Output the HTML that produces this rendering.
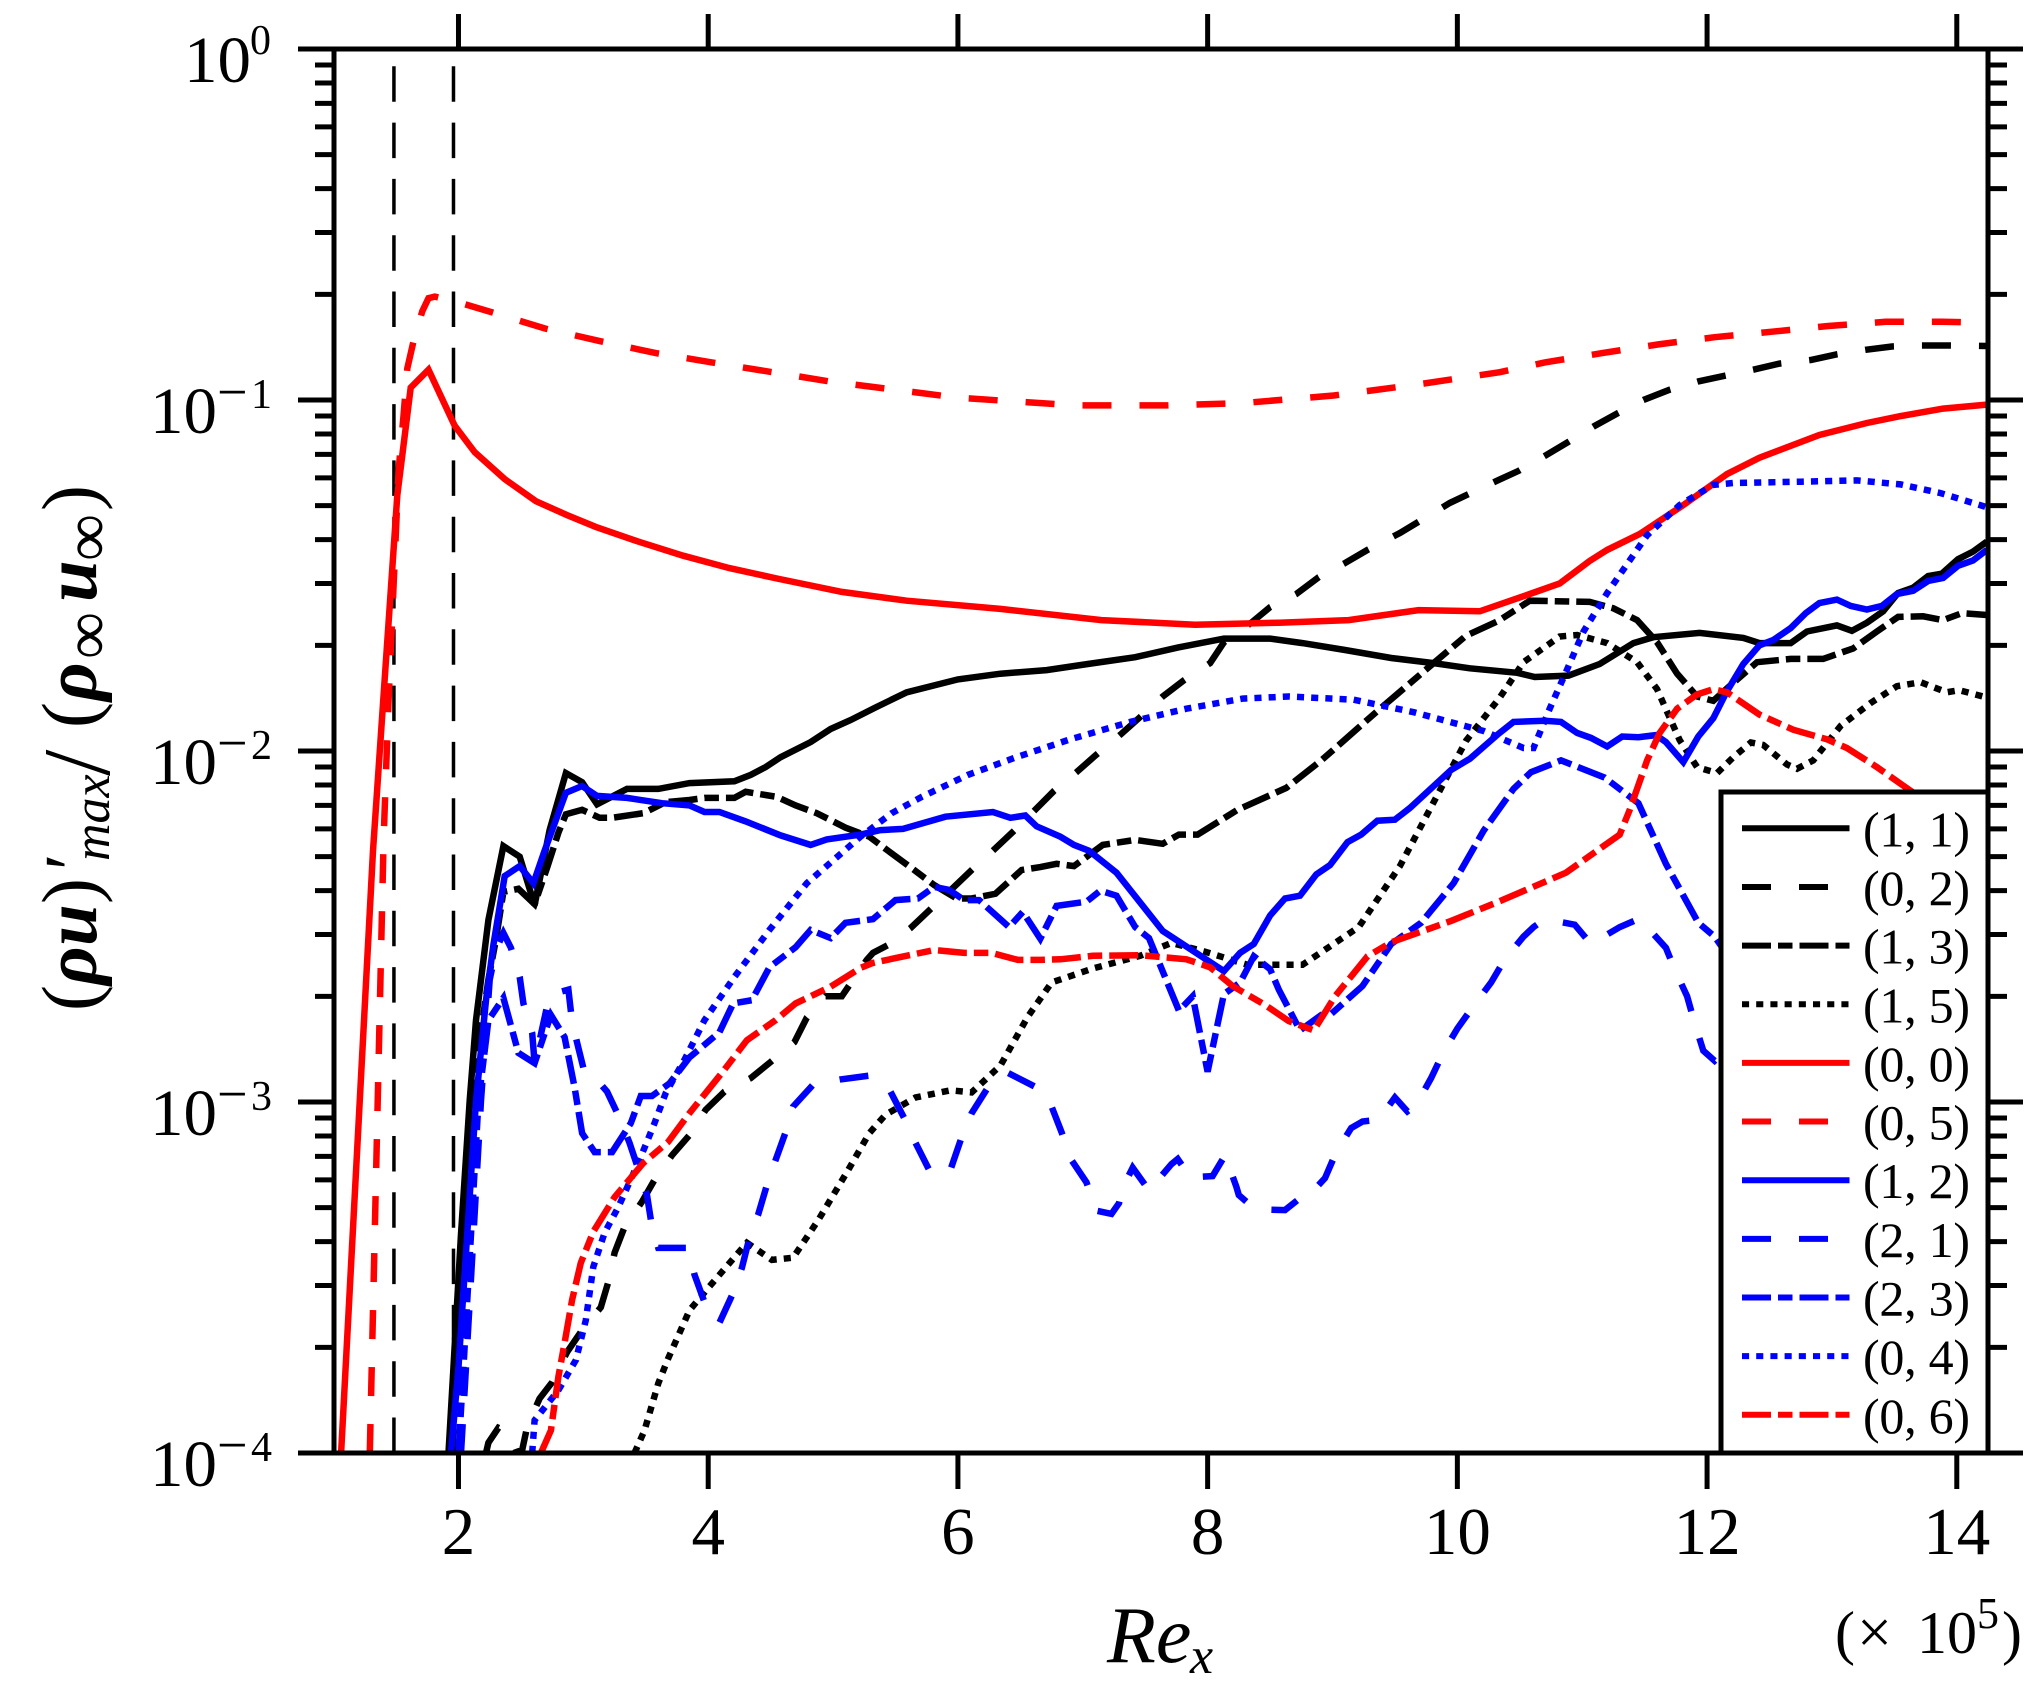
<!DOCTYPE html>
<html lang="en">
<head>
<meta charset="utf-8">
<title>Streamwise mass-flux fluctuation modes versus Re_x</title>
<style>
html,body{margin:0;padding:0;background:#fff;}
svg{display:block;}
text{font-family:"Liberation Serif","DejaVu Serif",serif;fill:#000;}
</style>
</head>
<body>
<svg id="chart" xmlns="http://www.w3.org/2000/svg" width="2031" height="1696" viewBox="0 0 2031 1696">
  <defs>
    <clipPath id="plot-clip"><rect x="334" y="49" width="1654" height="1404"/></clipPath>
  </defs>
  <rect x="0" y="0" width="2031" height="1696" fill="#fff"/>
  <g id="reference-lines"></g>
  <g id="series-layer" clip-path="url(#plot-clip)"></g>
  <g id="axis-layer"></g>
  <g id="legend-layer"></g>

  <g transform="translate(96,0) rotate(-90)">
    <text x="-1011" y="0" font-size="78">(</text>
    <text x="-985" y="0" font-size="75" font-style="italic" font-weight="bold">ρ</text>
    <text x="-946" y="0" font-size="75" font-style="italic" font-weight="bold">u</text>
    <text x="-904" y="0" font-size="78">)</text>
    <text x="-870" y="0" font-size="75">′</text>
    <text x="-861" y="13" font-size="52" font-style="italic">max</text>
    <text x="-776" y="13" font-size="95">/</text>
    <text x="-728" y="0" font-size="78">(</text>
    <text x="-701" y="0" font-size="75" font-style="italic" font-weight="bold">ρ</text>
    <text x="-659" y="13" font-size="66">∞</text>
    <text x="-602" y="0" font-size="75" font-style="italic" font-weight="bold">u</text>
    <text x="-561" y="13" font-size="66">∞</text>
    <text x="-511" y="0" font-size="78">)</text>
  </g>
  <g>
    <text x="1107" y="1662" font-size="80" font-style="italic">Re</text>
    <text x="1190" y="1673" font-size="52" font-style="italic">x</text>
  </g>
  <g>
    <text x="1835" y="1653" font-size="60">(</text>
    <text x="1857" y="1653" font-size="62">×</text>
    <text x="1917" y="1653" font-size="60">10</text>
    <text x="1977" y="1628" font-size="44">5</text>
    <text x="2002" y="1653" font-size="60">)</text>
  </g>
</svg>
<script>
// Axis domain (Re_x in units of 1e5, log-scaled amplitude)
const xDomain = [1.003, 14.25];
const yDomain = [1, 0.0001];
const xTickValues = [2, 4, 6, 8, 10, 12, 14];
const yDecadeExponents = [0, -1, -2, -3, -4];
const yMinorMultipliers = [2, 3, 4, 5, 6, 7, 8, 9];
const boundaryRe = [1.483, 1.96];

// (1, 1)
const re11 = [1.92,1.96,2.02,2.09,2.14,2.24,2.36,2.49,2.61,2.73,2.86,2.99,3.11,3.35,3.60,3.85,4.21,4.34,4.46,4.58,4.82,4.98,5.14,5.34,5.59,6.0,6.34,6.71,7.04,7.42,7.76,8.13,8.50,8.76,9.10,9.47,9.81,10.10,10.48,10.62,10.89,11.14,11.41,11.57,11.94,12.29,12.42,12.67,12.80,13.04,13.16,13.28,13.41,13.53,13.65,13.77,13.88,14.01,14.13,14.24];
const val11 = [.0001,.000176,.00042,.00101,.00171,.0033,.00536,.0050,.00364,.00595,.00865,.00815,.00705,.0078,.0078,.0081,.0082,.00855,.0090,.0096,.0106,.01155,.01225,.0133,.0147,.016,.0166,.0170,.0177,.0185,.0197,.0209,.0209,.0203,.0194,.0184,.0178,.0172,.0167,.01625,.0164,.0177,.0203,.0211,.0217,.0210,.0203,.0203,.0219,.0228,.0220,.0232,.0250,.0282,.0292,.0315,.0320,.0352,.0370,.0395];

// (0, 2)
const re02 = [2.22,2.24,2.32,2.37,2.44,2.47,2.51,2.55,2.65,2.75,2.87,2.99,3.14,3.20,3.25,3.33,3.47,3.57,3.71,3.85,3.98,4.13,4.34,4.50,4.69,4.79,4.94,5.07,5.13,5.27,5.32,5.44,5.62,5.79,5.96,6.11,6.28,6.45,6.66,6.77,6.95,7.10,7.31,7.46,7.64,7.81,8.02,8.13,8.35,8.50,8.71,8.89,9.10,9.28,9.54,9.94,10.34,10.49,10.70,10.89,11.09,11.28,11.49,11.70,11.93,12.13,12.37,12.58,12.83,13.04,13.27,13.48,13.72,13.93,14.24];
const val02 = [.0001,.000107,.000118,.000116,.000107,.0001,.000102,.000119,.000143,.000159,.000194,.000224,.00026,.000307,.000372,.00044,.00052,.0006,.000705,.000805,.00095,.00107,.00117,.0013,.00148,.00174,.0020,.0020,.00215,.00254,.00266,.0028,.00313,.00357,.00407,.00458,.0052,.00593,.00703,.0077,.0087,.0097,.0112,.0125,.0143,.0159,.0178,.0204,.0232,.0257,.0280,.0313,.0343,.0374,.0418,.0509,.0594,.0628,.0693,.076,.084,.0915,.100,.107,.113,.117,.122,.127,.130,.135,.139,.142,.143,.143,.1425];

// (1, 3)
const re13 = [1.95,2.01,2.09,2.17,2.24,2.30,2.36,2.48,2.61,2.71,2.80,2.86,2.99,3.13,3.23,3.48,3.66,3.85,3.97,4.21,4.30,4.55,4.70,4.87,5.10,5.29,5.44,5.65,5.81,5.99,6.11,6.30,6.51,6.66,6.79,6.93,7.16,7.42,7.64,7.77,7.92,8.24,8.63,8.91,9.36,9.81,10.07,10.33,10.58,11.06,11.25,11.44,11.60,11.76,11.92,12.05,12.18,12.40,12.67,12.93,13.17,13.36,13.53,13.73,13.89,14.04,14.24];
const val13 = [.0001,.000273,.000683,.0015,.00223,.0029,.00397,.00405,.00366,.00465,.00585,.0066,.0068,.00645,.00645,.00665,.00715,.00725,.00735,.00735,.00765,.0074,.0070,.00665,.00605,.0057,.0052,.00458,.00415,.0038,.0038,.00392,.00458,.00467,.00477,.0047,.0054,.00558,.00544,.00578,.00578,.0068,.00785,.0094,.0130,.0178,.0213,.0235,.0268,.0266,.0255,.0236,.0204,.0166,.0143,.0139,.0153,.0179,.0183,.0183,.0196,.0219,.0241,.0242,.0236,.0247,.0244];

// (1, 5)
const re15 = [3.41,3.49,3.60,3.68,3.85,4.02,4.31,4.51,4.68,4.88,5.11,5.29,5.42,5.66,5.94,6.11,6.34,6.56,6.75,7.08,7.46,7.71,7.98,8.32,8.76,9.21,9.54,10.07,10.34,10.53,10.82,10.96,11.20,11.44,11.60,11.78,11.92,12.08,12.21,12.35,12.45,12.64,12.72,12.85,13.07,13.31,13.52,13.71,13.92,14.02,14.24];
const val15 = [.0001,.000116,.000158,.000186,.000255,.000301,.000397,.000355,.00036,.00046,.00063,.000815,.00092,.00103,.00108,.001065,.00127,.00175,.00219,.0024,.00261,.00284,.00268,.00246,.00246,.00315,.0047,.0107,.0142,.0179,.0212,.0214,.0203,.0179,.0150,.01075,.0090,.00865,.0096,.01057,.0104,.00915,.0089,.0094,.0118,.0137,.0153,.0157,.0147,.0149,.0142];

// (0, 0)
const re00 = [1.06,1.315,1.41,1.51,1.617,1.76,1.97,2.13,2.37,2.62,2.87,3.10,3.44,3.80,4.17,4.55,5.07,5.59,6.34,7.15,7.90,8.57,9.13,9.69,10.18,10.58,10.82,11.06,11.20,11.46,11.81,12.16,12.42,12.90,13.28,13.55,13.89,14.24];
const val00 = [.0001,.0052,.0162,.0535,.1085,.122,.0845,.071,.0595,.0515,.047,.0435,.0395,.036,.0332,.031,.0284,.0268,.0254,.0236,.0229,.0232,.0236,.0252,.0250,.028,.030,.0348,.0374,.0415,.0502,.0615,.0685,.0795,.086,.090,.0945,.097];

// (0, 5)
const re05 = [1.29,1.40,1.44,1.52,1.56,1.59,1.64,1.71,1.76,1.81,2.04,2.24,2.69,3.14,3.58,4.03,4.97,6.0,6.94,7.67,8.28,9.01,9.74,10.34,10.70,11.16,11.61,12.06,12.52,12.97,13.43,13.88,14.24];
const val05 = [.0001,.0056,.014,.063,.090,.123,.147,.179,.195,.197,.188,.179,.160,.147,.136,.128,.113,.1015,.0965,.0965,.098,.103,.1115,.120,.128,.136,.144,.151,.1565,.1625,.167,.167,.166];

// (1, 2)
const re12 = [1.94,2.0,2.07,2.14,2.22,2.28,2.37,2.49,2.60,2.69,2.86,2.99,3.11,3.35,3.63,3.85,3.97,4.09,4.30,4.58,4.82,4.95,5.22,5.38,5.56,5.90,6.28,6.42,6.54,6.63,6.82,6.93,7.05,7.27,7.64,8.13,8.26,8.37,8.50,8.62,8.74,8.87,8.98,9.12,9.23,9.36,9.50,9.62,9.95,10.10,10.33,10.45,10.70,10.83,10.96,11.07,11.20,11.32,11.45,11.59,11.67,11.81,11.93,12.05,12.16,12.29,12.42,12.53,12.67,12.79,12.90,13.04,13.15,13.28,13.40,13.52,13.65,13.77,13.89,14.01,14.13,14.24];
const val12 = [.0001,.000176,.00042,.00101,.00195,.0028,.0044,.0047,.0042,.0052,.0076,.00795,.00745,.00735,.0071,.0070,.0067,.0067,.0063,.00575,.0054,.0056,.00578,.00595,.0060,.0065,.0067,.00645,.00655,.0061,.0057,.0054,.0052,.0045,.00307,.00236,.00266,.00282,.0034,.0038,.00387,.00445,.00473,.0055,.00578,.00633,.00637,.00688,.00883,.0095,.0112,.0121,.0122,.0121,.01125,.0109,.0103,.0110,.01095,.0111,.0106,.0093,.0110,.0124,.0148,.0177,.0200,.0207,.0224,.0247,.0264,.0270,.0259,.0253,.0259,.0280,.0286,.0305,.0311,.0337,.0349,.0374];

// (2, 1)
const re21 = [2.02,2.06,2.12,2.18,2.25,2.30,2.36,2.42,2.49,2.52,2.59,2.61,2.73,2.88,2.91,2.96,3.01,3.11,3.19,3.29,3.37,3.51,3.55,3.60,3.63,3.84,3.89,3.97,4.09,4.20,4.27,4.34,4.40,4.47,4.54,4.62,4.68,4.84,5.06,5.30,5.42,5.46,5.57,5.66,5.78,5.81,5.94,6.03,6.11,6.24,6.34,6.40,6.63,6.75,6.83,6.91,7.03,7.11,7.23,7.29,7.32,7.40,7.53,7.71,7.76,7.86,8.04,8.14,8.23,8.25,8.38,8.62,8.75,8.80,8.94,9.03,9.15,9.24,9.37,9.50,9.60,9.67,9.79,9.89,10.0,10.13,10.27,10.38,10.53,10.61,10.70,10.94,11.07,11.30,11.46,11.67,11.74,11.84,11.90,11.97,12.06,12.11,12.42];
const val21 = [.0001,.000176,.00042,.00101,.00223,.00271,.00303,.00275,.00227,.00191,.00157,.00129,.00202,.00209,.00169,.00143,.00121,.001155,.00107,.0009,.000765,.000543,.00044,.000384,.000384,.000384,.000322,.000269,.000235,.000286,.000337,.000424,.000477,.00058,.000683,.00082,.00097,.00112,.00116,.00119,.0011,.00107,.0009,.000765,.00063,.00062,.00064,.000795,.00093,.0011,.001155,.00121,.0011,.00097,.00082,.000683,.00059,.00049,.00048,.000515,.00057,.00065,.00056,.000665,.000688,.00061,.000615,.000705,.000573,.000543,.000495,.000492,.000536,.000536,.000607,.00072,.000843,.00088,.00089,.00103,.00094,.00098,.00117,.00139,.00162,.00188,.00219,.00255,.00296,.00315,.00332,.0032,.00282,.00315,.00333,.00275,.00239,.0020,.00168,.0014,.00131,.00136,.00195];

// (2, 3)
const re23 = [2.0,2.04,2.10,2.16,2.22,2.24,2.36,2.48,2.61,2.74,2.85,2.93,2.99,3.09,3.23,3.38,3.46,3.55,3.69,3.85,4.09,4.20,4.35,4.49,4.70,4.82,4.98,5.10,5.32,5.50,5.68,5.81,5.93,6.05,6.17,6.41,6.52,6.66,6.79,7.03,7.14,7.27,7.42,7.53,7.77,7.88,8.00,8.13,8.26,8.37,8.50,8.57,8.74,8.91,8.98,9.24,9.47,9.71,9.97,10.21,10.45,10.59,10.83,11.18,11.45,11.67,11.93,12.06,12.42];
const val23 = [.0001,.000176,.00042,.00101,.0015,.00171,.00198,.00138,.00129,.00177,.00153,.0011,.000815,.00072,.00072,.00087,.00104,.00104,.00113,.00134,.00158,.00191,.00195,.00242,.00276,.00309,.00293,.00324,.00332,.00376,.0038,.0041,.00402,.00376,.00376,.00315,.00348,.00292,.00362,.00372,.0040,.00387,.00315,.00293,.00182,.0020,.00122,.00203,.00219,.0026,.00239,.00209,.0016,.00177,.00177,.00214,.00282,.00324,.0042,.00593,.0078,.0087,.0094,.0084,.0071,.00477,.00324,.00296,.00195];

// (0, 4)
const re04 = [2.59,2.61,2.80,2.94,3.02,3.08,3.17,3.28,3.45,3.57,3.66,3.81,3.97,4.21,4.49,4.79,5.22,5.47,5.71,6.08,6.45,6.90,7.38,7.83,8.28,8.65,9.17,9.65,10.21,10.53,10.61,10.74,10.88,11.01,11.20,11.52,11.78,12.05,12.21,12.75,13.20,13.55,13.87,14.24];
const val04 = [.0001,.000124,.000151,.000184,.000239,.000339,.000424,.000502,.000683,.00087,.00106,.00132,.00171,.00227,.00309,.0042,.0057,.00665,.0074,.00855,.00955,.0108,.0121,.0132,.0141,.0143,.0140,.0129,.0114,.0102,.0102,.0132,.0171,.0219,.0282,.0412,.0502,.0573,.058,.0585,.059,.0575,.0543,.0495];

// (0, 6)
const re06 = [2.66,2.74,2.80,2.85,2.91,2.98,3.08,3.25,3.48,3.68,3.85,4.11,4.31,4.54,4.70,4.98,5.22,5.32,5.50,5.81,6.05,6.27,6.48,6.66,6.82,7.08,7.46,7.83,8.02,8.20,8.46,8.65,8.85,9.02,9.28,9.47,9.95,10.33,10.87,11.30,11.38,11.52,11.62,11.76,11.92,12.05,12.16,12.42,12.69,12.96,13.12,13.36,13.63,13.95];
const val06 = [.0001,.000116,.000165,.000206,.000273,.000348,.000427,.000536,.00067,.00077,.00093,.00121,.0015,.00171,.00191,.00213,.00241,.00249,.00257,.00271,.00266,.00266,.00254,.00254,.00255,.00261,.00262,.00255,.00242,.00214,.00189,.0017,.0016,.0020,.0026,.00285,.00328,.00372,.0045,.00578,.0068,.0094,.01125,.0132,.0145,.0150,.0147,.0127,.0115,.0108,.0102,.0090,.0077,.00637];

const seriesNames = ['(1, 1)','(0, 2)','(1, 3)','(1, 5)','(0, 0)','(0, 5)','(1, 2)','(2, 1)','(2, 3)','(0, 4)','(0, 6)'];
const seriesRe = [re11,re02,re13,re15,re00,re05,re12,re21,re23,re04,re06];
const seriesVal = [val11,val02,val13,val15,val00,val05,val12,val21,val23,val04,val06];
</script>
<script>
(function(){
  var NS = 'http://www.w3.org/2000/svg';
  var plot = {left:334, right:1988, top:49, bottom:1453};
  var longDash = '29 28', dashDot = '29 7 14.5 7', dots = '7.1 7.1';
  var styles = [
    {color:'#000000', dash:'', width:6.5},
    {color:'#000000', dash:longDash, width:6.5},
    {color:'#000000', dash:dashDot, width:6.5},
    {color:'#000000', dash:dots, width:6.5},
    {color:'#ff0000', dash:'', width:6.5},
    {color:'#ff0000', dash:longDash, width:6.5},
    {color:'#0000ff', dash:'', width:6.5},
    {color:'#0000ff', dash:longDash, width:6.5},
    {color:'#0000ff', dash:dashDot, width:6.5},
    {color:'#0000ff', dash:dots, width:6.5},
    {color:'#ff0000', dash:dashDot, width:6.5}
  ];

  function xScale(re){
    return plot.left + (re - xDomain[0]) / (xDomain[1] - xDomain[0]) * (plot.right - plot.left);
  }
  function yScale(v){
    var a = Math.log10(yDomain[0]), b = Math.log10(yDomain[1]);
    return plot.top + (Math.log10(v) - a) / (b - a) * (plot.bottom - plot.top);
  }
  function make(tag, attrs, parent){
    var el = document.createElementNS(NS, tag);
    for (var k in attrs) el.setAttribute(k, attrs[k]);
    parent.appendChild(el);
    return el;
  }
  function slug(label){
    return label.replace(/[^0-9]+/g, '-').replace(/^-|-$/g, '');
  }

  var refLayer = document.getElementById('reference-lines');
  boundaryRe.forEach(function(re){
    var l = make('line', {x1:xScale(re), x2:xScale(re), y1:plot.bottom, y2:plot.top, stroke:'#000', 'stroke-width':3.5, 'stroke-dasharray':'35.5 20.8'}, refLayer);
    
    
  });

  var seriesLayer = document.getElementById('series-layer');
  seriesNames.forEach(function(name, i){
    var re = seriesRe[i], val = seriesVal[i], n = Math.min(re.length, val.length), pts = [];
    for (var j = 0; j < n; j++) pts.push(xScale(re[j]).toFixed(1) + ',' + yScale(val[j]).toFixed(1));
    var attrs = {points:pts.join(' '), fill:'none', stroke:styles[i].color, 'stroke-width':styles[i].width, 'stroke-linejoin':'miter', 'stroke-miterlimit':4};
    if (styles[i].dash) attrs['stroke-dasharray'] = styles[i].dash;
    var p = make('polyline', attrs, seriesLayer);
    
    
  });

  var axisLayer = document.getElementById('axis-layer');
  var frame = make('rect', {x:plot.left, y:plot.top, width:plot.right-plot.left, height:plot.bottom-plot.top, fill:'none', stroke:'#000', 'stroke-width':5}, axisLayer);
  
  

  xTickValues.forEach(function(t){
    var x = xScale(t);
    var b = make('line', {x1:x, x2:x, y1:plot.bottom, y2:plot.bottom+36, stroke:'#000', 'stroke-width':5}, axisLayer);
    
    
    var u = make('line', {x1:x, x2:x, y1:plot.top, y2:plot.top-35, stroke:'#000', 'stroke-width':5}, axisLayer);
    
    
    var lab = make('text', {x:x, y:1554, 'font-size':67, 'text-anchor':'middle'}, axisLayer);
    
    
    lab.textContent = String(t);
  });

  yDecadeExponents.forEach(function(e){
    var v = Math.pow(10, e), y = yScale(v);
    var maj = make('line', {x1:298, x2:plot.left, y1:y, y2:y, stroke:'#000', 'stroke-width':5}, axisLayer);
    
    
    var majR = make('line', {x1:plot.right, x2:2023, y1:y, y2:y, stroke:'#000', 'stroke-width':5}, axisLayer);
    
    

    var baseX = e === 0 ? 184 : 150;
    var base = make('text', {x:baseX, y:y+33, 'font-size':66, textLength:67, lengthAdjust:'spacingAndGlyphs'}, axisLayer);
    
    
    base.textContent = '10';
    if (e !== 0) {
      var minus = make('text', {x:217, y:y+10, 'font-size':54}, axisLayer);
      
      
      minus.textContent = '\u2212';
    }
    var sup = make('text', {x:e === 0 ? 250 : 251, y:e === 0 ? y+5 : y+8, 'font-size':42}, axisLayer);
    
    
    sup.textContent = String(Math.abs(e));

    if (e > -4) {
      yMinorMultipliers.forEach(function(m){
        var ym = yScale(v * m / 10);
        var mn = make('line', {x1:315, x2:plot.left, y1:ym, y2:ym, stroke:'#000', 'stroke-width':5}, axisLayer);
        
        
        var mr = make('line', {x1:plot.right, x2:2007, y1:ym, y2:ym, stroke:'#000', 'stroke-width':5}, axisLayer);
        
        
      });
    }
  });

  var legendLayer = document.getElementById('legend-layer');
  var box = make('rect', {x:1721, y:792, width:267, height:661, fill:'#fff', stroke:'#000', 'stroke-width':5}, legendLayer);
  
  
  seriesNames.forEach(function(name, i){
    var ly = 828.3 + i * 58.65;
    var attrs = {x1:1742, x2:1849.5, y1:ly, y2:ly, stroke:styles[i].color, 'stroke-width':6};
    if (styles[i].dash) attrs['stroke-dasharray'] = styles[i].dash;
    var sw = make('line', attrs, legendLayer);
    
    
    var t = make('text', {x:1863, y:ly+18, 'font-size':50, textLength:107, lengthAdjust:'spacing'}, legendLayer);
    
    
    t.textContent = name;
  });
})();
</script>
</body>
</html>
